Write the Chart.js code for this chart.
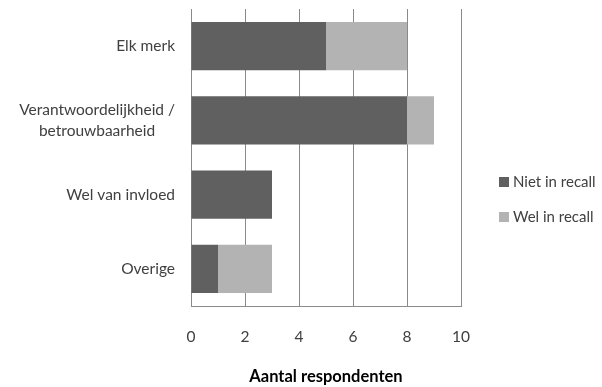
<!DOCTYPE html>
<html>
<head>
<meta charset="utf-8">
<script src="https://cdn.jsdelivr.net/npm/chart.js@4/dist/chart.umd.min.js"></script>
<style>
  html, body { margin: 0; padding: 0; background: #ffffff; }
  #wrap { width: 602px; height: 387px; }
</style>
</head>
<body>
<div id="wrap"><canvas id="c" width="602" height="387"></canvas></div>
<script>
// Categories (multi-line labels as arrays), top to bottom
const categories = [
  ['Elk merk'],
  ['Verantwoordelijkheid /', 'betrouwbaarheid'],
  ['Wel van invloed'],
  ['Overige']
];
const seriesNames = ['Niet in recall', 'Wel in recall'];
const nietInRecall = [5, 8, 3, 1];
const welInRecall = [3, 1, 0, 2];
const xTicks = [0, 2, 4, 6, 8, 10];
const axisTitle = 'Aantal respondenten';

const FONT = 'Lato, "Open Sans", sans-serif';
const DARK = '#606060';
const LIGHT = '#b3b3b3';
const GRID = '#8a8a8a';
const TEXT = '#404040';

// Category labels on the left: each block right-aligned, its lines centred on each other
const categoryLabels = {
  id: 'categoryLabels',
  afterDraw(chart) {
    const ctx = chart.ctx;
    const y = chart.scales.y;
    const right = chart.chartArea.left - 16;
    const lh = 21;
    ctx.save();
    ctx.font = '15.5px ' + FONT;
    ctx.fillStyle = TEXT;
    ctx.textBaseline = 'middle';
    ctx.textAlign = 'center';
    chart.data.labels.forEach((lines, i) => {
      const cy = y.getPixelForValue(i);
      const widest = Math.max(...lines.map(l => ctx.measureText(l).width));
      const cx = right - widest / 2;
      const y0 = cy - (lines.length - 1) * lh / 2;
      lines.forEach((l, k) => ctx.fillText(l, cx, y0 + k * lh));
    });
    ctx.restore();
  }
};

// Legend to the right of the plot
const sideLegend = {
  id: 'sideLegend',
  afterDraw(chart) {
    const ctx = chart.ctx;
    const area = chart.chartArea;
    const x = area.right + 38;
    const gap = 35;
    const sets = chart.data.datasets;
    const cy = 199.5;
    const y0 = cy - (sets.length - 1) * gap / 2;
    ctx.save();
    ctx.font = '15px ' + FONT;
    ctx.textBaseline = 'middle';
    ctx.textAlign = 'left';
    sets.forEach((ds, i) => {
      const yy = y0 + i * gap;
      ctx.fillStyle = ds.backgroundColor;
      ctx.fillRect(x, yy - 5, 10, 10);
      ctx.fillStyle = TEXT;
      ctx.fillText(ds.label, x + 14, yy);
    });
    ctx.restore();
  }
};

new Chart(document.getElementById('c'), {
  type: 'bar',
  data: {
    labels: categories,
    datasets: [
      { label: seriesNames[0], data: nietInRecall, backgroundColor: DARK },
      { label: seriesNames[1], data: welInRecall, backgroundColor: LIGHT }
    ]
  },
  options: {
    indexAxis: 'y',
    responsive: false,
    animation: false,
    events: [],
    categoryPercentage: 0.65,
    barPercentage: 1.0,
    layout: { padding: { top: 9, left: 191, right: 141, bottom: 0 } },
    plugins: {
      legend: { display: false },
      tooltip: { enabled: false }
    },
    scales: {
      x: {
        stacked: true,
        min: 0,
        max: 10,
        afterBuildTicks(scale) { scale.ticks = xTicks.map(v => ({ value: v })); },
        afterFit(scale) { scale.height = 81; },
        grid: { color: GRID, lineWidth: 1, drawTicks: false },
        border: { display: true, color: GRID, width: 1 },
        ticks: { color: TEXT, padding: 22, font: { family: FONT, size: 15.5 } },
        title: {
          display: true,
          text: axisTitle,
          color: '#000000',
          padding: { top: 0, bottom: 0 },
          font: { family: FONT, size: 16.5, weight: 'bold' }
        }
      },
      y: {
        stacked: true,
        afterFit(scale) { scale.width = 0; },
        grid: { display: false, drawTicks: false },
        border: { display: true, color: GRID, width: 1 },
        ticks: { display: false }
      }
    }
  },
  plugins: [categoryLabels, sideLegend]
});
</script>
</body>
</html>
